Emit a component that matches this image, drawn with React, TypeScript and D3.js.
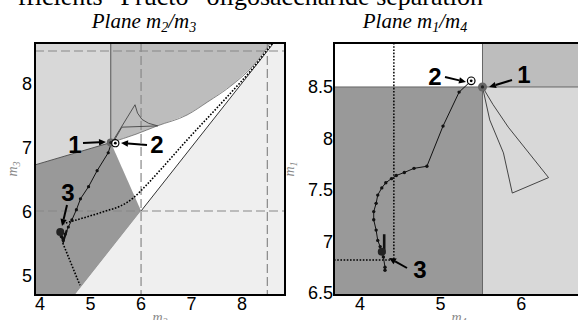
import React from "react";
import * as d3 from "d3";

type P = [number, number];

// ---------- Left panel (m2 / m3) ----------
const L_X_TICKS = [4, 5, 6, 7, 8];
const L_Y_TICKS = [5, 6, 7, 8];
const L_X_DOMAIN: P = [3.9, 8.85];
const L_Y_DOMAIN: P = [4.6875, 8.625];
const L_DASH_X = [6, 8.5];
const L_DASH_Y = [6, 8.5];

const L_REGION_LIGHT: P[] = [[3.9, 8.625], [5.4, 8.625], [5.4, 7.07], [3.9, 6.72]];
const L_CURVE: P[] = [[5.4, 7.07], [5.9, 7.2], [6.32, 7.33], [6.91, 7.5], [7.31, 7.7], [7.82, 7.98], [8.22, 8.27], [8.56, 8.625]];
const L_REGION_DARK: P[] = [[3.9, 6.72], [5.4, 7.07], [6, 6], [4.6875, 4.6875], [3.9, 4.6875]];
const L_REGION_PALE: P[] = [[4.6875, 4.6875], [8.625, 8.625], [8.85, 8.625], [8.85, 4.6875]];
const L_DIAG: P[] = [[6, 6], [8.625, 8.625]];
const L_CUSP: P[] = [[5.43, 7.08], [5.88, 7.66], [5.93, 7.53], [6.02, 7.43], [6.15, 7.37], [6.33, 7.33], [5.62, 7.31], [5.46, 7.09]];
const L_TRAJ: P[] = [[5.41, 7.06], [5.35, 6.91], [5.13, 6.63], [4.96, 6.38], [4.8, 6.19], [4.72, 6.02], [4.63, 5.86], [4.56, 5.75], [4.5, 5.64], [4.46, 5.54], [4.42, 5.6], [4.4, 5.67]];
const L_V: P[] = [[4.4, 5.68], [4.46, 5.53], [4.53, 5.7]];
const L_DOTTED_CURVE: P[] = [[4.45, 5.8], [4.85, 5.89], [5.3, 6.0], [5.6, 6.08], [5.84, 6.2], [6.1, 6.4], [6.38, 6.64], [6.9, 7.1], [7.7, 7.78], [8.2, 8.22], [8.6, 8.625]];
const L_DOTTED_DOWN: P[] = [[4.45, 5.5], [4.79, 4.84]];
const L_P1: P = [5.4, 7.07];
const L_P2: P = [5.49, 7.06];
const L_P3: P = [4.4, 5.67];

// ---------- Right panel (m1 / m4) ----------
const R_X_TICKS = [4, 5, 6];
const R_Y_TICKS = [6.5, 7, 7.5, 8, 8.5];
const R_X_DOMAIN: P = [3.677, 6.78];
const R_Y_DOMAIN: P = [6.48, 8.927];
const R_SPLIT_X = 5.52;
const R_SPLIT_Y = 8.5;
const R_TRAJ: P[] = [[5.38, 8.56], [5.23, 8.45], [5.03, 8.12], [4.83, 7.73], [4.67, 7.71], [4.55, 7.67], [4.45, 7.64], [4.39, 7.61], [4.32, 7.57], [4.27, 7.52], [4.22, 7.45], [4.2, 7.37], [4.17, 7.29], [4.17, 7.21], [4.2, 7.11], [4.22, 7.01], [4.25, 6.95], [4.29, 6.85], [4.31, 6.75], [4.31, 6.72]];
const R_CLUSTER: P[] = [[4.3, 7.07], [4.3, 6.88]];
const R_QUAD: P[] = [[5.52, 8.5], [5.61, 8.18], [5.78, 7.86], [5.89, 7.47], [6.34, 7.62], [5.84, 8.11], [5.65, 8.33], [5.52, 8.5]];
const R_DOT_X = 4.42;
const R_DOT_Y = 6.82;
const R_P1: P = [5.52, 8.5];
const R_P2: P = [5.38, 8.56];
const R_P3: P = [4.27, 6.9];

const C_DARK = "#999999";
const C_MED = "#bdbdbd";
const C_LIGHT = "#d8d8d8";
const C_PALE = "#efefef";

const TICK_FONT = "'Liberation Sans', Arial, sans-serif";
const SERIF = "'Liberation Serif', 'Times New Roman', serif";

function Arrow({ x1, y1, x2, y2 }: { x1: number; y1: number; x2: number; y2: number }) {
  const a = Math.atan2(y2 - y1, x2 - x1);
  const len = 7, w = 3.2;
  const bx = x2 - len * Math.cos(a), by = y2 - len * Math.sin(a);
  const px = -Math.sin(a) * w, py = Math.cos(a) * w;
  return (
    <g>
      <line x1={x1} y1={y1} x2={bx} y2={by} stroke="#000" strokeWidth={2} />
      <polygon points={`${x2},${y2} ${bx + px},${by + py} ${bx - px},${by - py}`} fill="#000" />
    </g>
  );
}

function Label({ x, y, t }: { x: number; y: number; t: string }) {
  return (
    <text x={x} y={y} fontFamily={TICK_FONT} fontWeight="bold" fontSize={24} textAnchor="middle" fill="#000">{t}</text>
  );
}

function LeftPanel() {
  const x0 = 35, x1 = 285, y0 = 43, y1 = 295;
  const x = d3.scaleLinear().domain(L_X_DOMAIN).range([x0, x1]);
  const y = d3.scaleLinear().domain(L_Y_DOMAIN).range([y1, y0]);
  const line = d3.line<P>().x(d => x(d[0])).y(d => y(d[1]));
  const curveLine = d3.line<P>().x(d => x(d[0])).y(d => y(d[1])).curve(d3.curveMonotoneX);
  const poly = (pts: P[]) => line(pts) + "Z";
  const medRegion: P[] = [[5.4, 8.625], [8.85, 8.625], ...L_CURVE.slice().reverse()];
  const whiteRegion: P[] = [...L_CURVE, [8.625, 8.625], [6, 6]];
  const curveD = curveLine(L_CURVE) || "";
  return (
    <g>
      <defs>
        <clipPath id="clipL"><rect x={x0} y={y0} width={x1 - x0} height={y1 - y0} /></clipPath>
      </defs>
      <g clipPath="url(#clipL)">
        <rect x={x0} y={y0} width={x1 - x0} height={y1 - y0} fill={C_PALE} />
        <path d={poly(L_REGION_LIGHT)} fill={C_LIGHT} />
        <path d={poly(medRegion)} fill={C_MED} />
        <path d={poly(whiteRegion)} fill="#ffffff" />
        <path d={poly(L_REGION_DARK)} fill={C_DARK} />
        <path d={poly(L_REGION_PALE)} fill={C_PALE} />
        <line x1={x(5.4)} y1={y0} x2={x(L_P1[0])} y2={y(L_P1[1])} stroke="#555" strokeWidth={1} />
        <line x1={x0} y1={y(6.72)} x2={x(L_P1[0])} y2={y(L_P1[1])} stroke="#555" strokeWidth={1} />
        <path d={curveD} fill="none" stroke="#666" strokeWidth={0.8} />
        <path d={line(L_DIAG) || ""} fill="none" stroke="#333" strokeWidth={1} />
        {L_DASH_X.map(v => (
          <line key={"dx" + v} x1={x(v)} x2={x(v)} y1={y0} y2={y1} stroke="#888" strokeWidth={1.2} strokeDasharray="9,4" />
        ))}
        {L_DASH_Y.map(v => (
          <line key={"dy" + v} x1={x0} x2={x1} y1={y(v)} y2={y(v)} stroke="#888" strokeWidth={1.2} strokeDasharray="9,4" />
        ))}
        <path d={line(L_CUSP) || ""} fill="none" stroke="#444" strokeWidth={0.9} />
        <path d={curveLine(L_DOTTED_CURVE) || ""} fill="none" stroke="#000" strokeWidth={1.6} strokeDasharray="1.6,1.6" />
        <path d={line(L_DOTTED_DOWN) || ""} fill="none" stroke="#000" strokeWidth={1.6} strokeDasharray="1.6,1.6" />
        <path d={line(L_TRAJ) || ""} fill="none" stroke="#111" strokeWidth={1} />
        <path d={line(L_V) || ""} fill="none" stroke="#111" strokeWidth={2.2} />
        {L_TRAJ.map((d, i) => (
          <circle key={"lt" + i} cx={x(d[0])} cy={y(d[1])} r={1.6} fill="#111" />
        ))}
        <circle cx={x(L_P1[0])} cy={y(L_P1[1])} r={4} fill="#666" />
        <circle cx={x(L_P1[0])} cy={y(L_P1[1])} r={1.5} fill="#222" />
        <circle cx={x(L_P2[0])} cy={y(L_P2[1])} r={3.6} fill="#fff" stroke="#000" strokeWidth={1.2} />
        <circle cx={x(L_P2[0])} cy={y(L_P2[1])} r={1.4} fill="#000" />
        <circle cx={x(L_P3[0])} cy={y(L_P3[1])} r={4} fill="#222" />
      </g>
      <rect x={x0} y={y0} width={x1 - x0} height={y1 - y0} fill="none" stroke="#000" strokeWidth={2} />
      {L_X_TICKS.map(v => (
        <text key={"xt" + v} x={x(v)} y={310} fontFamily={TICK_FONT} fontSize={18} textAnchor="middle">{v}</text>
      ))}
      {L_Y_TICKS.map(v => (
        <text key={"yt" + v} x={x0 - 3} y={y(v) + 6.5} fontFamily={TICK_FONT} fontSize={18} textAnchor="end">{v}</text>
      ))}
      <text x={(x0 + x1) / 2} y={322} fontFamily={SERIF} fontStyle="italic" fontSize={14} fill="#888" textAnchor="middle">
        m<tspan fontSize={10} dy={3}>2</tspan>
      </text>
      <text transform={`translate(17,${(y0 + y1) / 2}) rotate(-90)`} fontFamily={SERIF} fontStyle="italic" fontSize={14} fill="#888" textAnchor="middle">
        m<tspan fontSize={10} dy={3}>3</tspan>
      </text>
      <text x={144} y={28} fontFamily={SERIF} fontStyle="italic" fontSize={21} textAnchor="middle">
        Plane m<tspan fontSize={14} dy={4}>2</tspan><tspan dy={-4}>/m</tspan><tspan fontSize={14} dy={4}>3</tspan>
      </text>
      <Label x={75} y={153} t="1" />
      <Arrow x1={83} y1={143} x2={106} y2={142} />
      <Label x={157} y={153} t="2" />
      <Arrow x1={147} y1={145} x2={121} y2={143} />
      <Label x={68} y={201} t="3" />
      <Arrow x1={67} y1={205} x2={62} y2={226} />
    </g>
  );
}

function RightPanel() {
  const x0 = 334, x1 = 584, y0 = 43, y1 = 295;
  const x = d3.scaleLinear().domain(R_X_DOMAIN).range([x0, x1]);
  const y = d3.scaleLinear().domain(R_Y_DOMAIN).range([y1, y0]);
  const line = d3.line<P>().x(d => x(d[0])).y(d => y(d[1]));
  const sx = x(R_SPLIT_X), sy = y(R_SPLIT_Y);
  return (
    <g>
      <defs>
        <clipPath id="clipR"><rect x={x0} y={y0} width={x1 - x0} height={y1 - y0} /></clipPath>
      </defs>
      <g clipPath="url(#clipR)">
        <rect x={x0} y={y0} width={sx - x0} height={sy - y0} fill="#ffffff" />
        <rect x={sx} y={y0} width={x1 - sx} height={sy - y0} fill={C_MED} />
        <rect x={x0} y={sy} width={sx - x0} height={y1 - sy} fill={C_DARK} />
        <rect x={sx} y={sy} width={x1 - sx} height={y1 - sy} fill={C_LIGHT} />
        <line x1={sx} x2={sx} y1={y0} y2={y1} stroke="#666" strokeWidth={1} />
        <line x1={x0} x2={x1} y1={sy} y2={sy} stroke="#666" strokeWidth={1} />
        <line x1={x(R_DOT_X)} x2={x(R_DOT_X)} y1={y0} y2={y(R_DOT_Y)} stroke="#000" strokeWidth={1.5} strokeDasharray="1.6,1.6" />
        <line x1={x0} x2={x(R_DOT_X)} y1={y(R_DOT_Y)} y2={y(R_DOT_Y)} stroke="#000" strokeWidth={1.5} strokeDasharray="1.6,1.6" />
        <path d={line(R_QUAD) || ""} fill="none" stroke="#333" strokeWidth={0.9} />
        <path d={line(R_TRAJ) || ""} fill="none" stroke="#111" strokeWidth={1} />
        <path d={line(R_CLUSTER) || ""} fill="none" stroke="#111" strokeWidth={2.6} />
        {R_TRAJ.slice(1).map((d, i) => (
          <circle key={"rt" + i} cx={x(d[0])} cy={y(d[1])} r={1.7} fill="#111" />
        ))}
        <circle cx={x(R_P1[0])} cy={y(R_P1[1])} r={4.5} fill="#666" />
        <circle cx={x(R_P1[0])} cy={y(R_P1[1])} r={1.6} fill="#222" />
        <circle cx={x(R_P2[0])} cy={y(R_P2[1])} r={3.8} fill="#fff" stroke="#000" strokeWidth={1.2} />
        <circle cx={x(R_P2[0])} cy={y(R_P2[1])} r={1.4} fill="#000" />
        <circle cx={x(R_P3[0])} cy={y(R_P3[1])} r={4} fill="#222" />
      </g>
      <rect x={x0} y={y0} width={x1 - x0} height={y1 - y0} fill="none" stroke="#000" strokeWidth={2} />
      {R_X_TICKS.map(v => (
        <text key={"xt" + v} x={x(v)} y={310} fontFamily={TICK_FONT} fontSize={18} textAnchor="middle">{v}</text>
      ))}
      {R_Y_TICKS.map(v => (
        <text key={"yt" + v} x={x0 - 1} y={y(v) + 6.5} fontFamily={TICK_FONT} fontSize={18} textAnchor="end">{v}</text>
      ))}
      <text x={(x0 + x1) / 2} y={322} fontFamily={SERIF} fontStyle="italic" fontSize={14} fill="#888" textAnchor="middle">
        m<tspan fontSize={10} dy={3}>4</tspan>
      </text>
      <text transform={`translate(294,${(y0 + y1) / 2}) rotate(-90)`} fontFamily={SERIF} fontStyle="italic" fontSize={14} fill="#888" textAnchor="middle">
        m<tspan fontSize={10} dy={3}>1</tspan>
      </text>
      <text x={415} y={28} fontFamily={SERIF} fontStyle="italic" fontSize={21} textAnchor="middle">
        Plane m<tspan fontSize={14} dy={4}>1</tspan><tspan dy={-4}>/m</tspan><tspan fontSize={14} dy={4}>4</tspan>
      </text>
      <Label x={435} y={85} t="2" />
      <Arrow x1={445} y1={77} x2={466} y2={82} />
      <Label x={524} y={83} t="1" />
      <Arrow x1={512} y1={80} x2={489} y2={87} />
      <Label x={420} y={278} t="3" />
      <Arrow x1={407} y1={268} x2={389} y2={258} />
    </g>
  );
}

export default function App() {
  return (
    <svg width={578} height={320} viewBox="0 0 578 320" style={{ position: "absolute", left: 0, top: 0, background: "#fff" }}>
      <rect x={0} y={0} width={578} height={320} fill="#fff" />
      <text x={483} y={5} fontFamily={SERIF} fontSize={26} textAnchor="end" fill="#000">
        fficients “Fructo” oligosaccharide separation
      </text>
      <LeftPanel />
      <RightPanel />
    </svg>
  );
}
